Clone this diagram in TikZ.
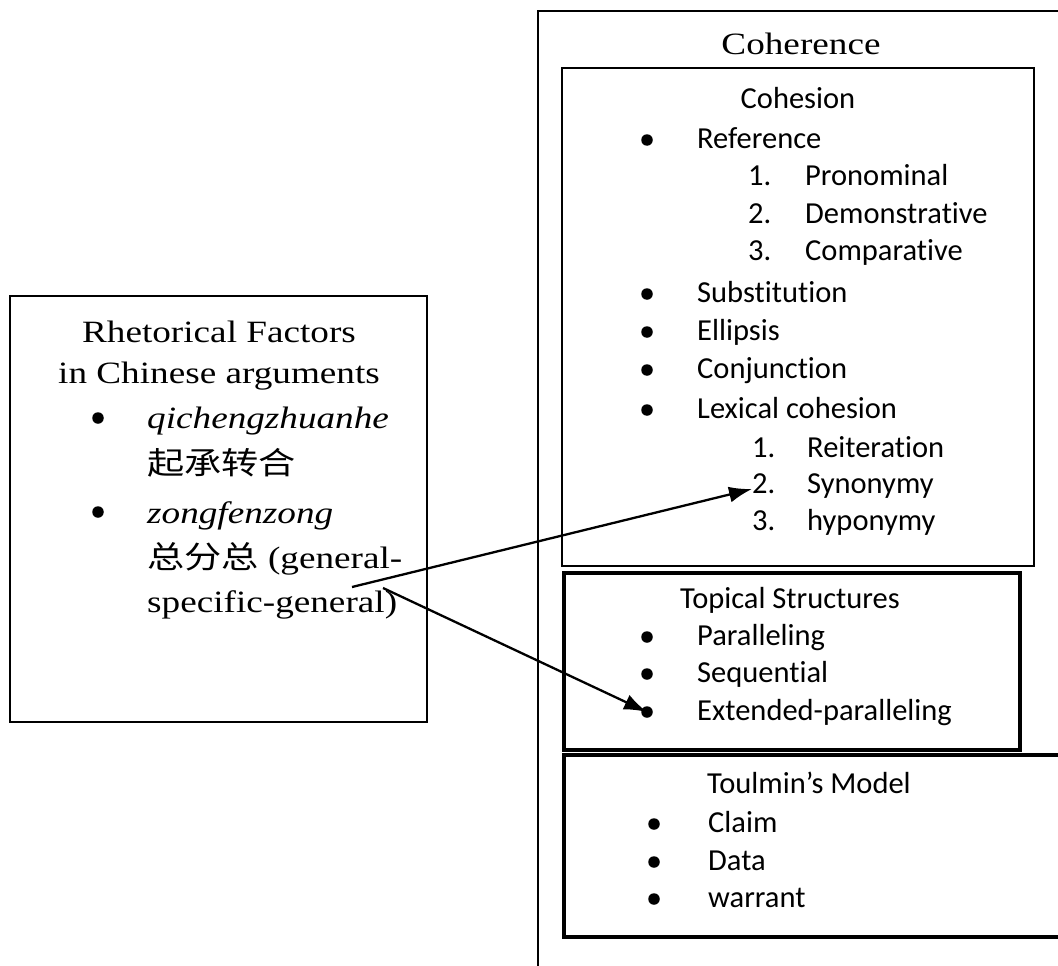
\documentclass[tikz,border=0pt]{standalone}
\usepackage{graphicx}
\usepackage{fontspec}
\setmainfont{Liberation Serif}
\newfontfamily\calib[RawFeature={-liga;-clig;-calt;-dlig}]{Carlito}
\newfontfamily\cjk{Noto Sans CJK SC}
\usetikzlibrary{arrows.meta}

% horizontally widened serif text
\newcommand{\wide}[1]{\scalebox{1.2}[1]{#1}}

\begin{document}
\begin{tikzpicture}[x=1pt,y=-1pt,
  sansline/.style={anchor=base west, inner sep=0pt, font=\calib\fontsize{30.5}{36}\selectfont},
  sanshead/.style={anchor=base, inner sep=0pt, font=\calib\fontsize{30.5}{36}\selectfont},
  serifline/.style={anchor=base west, inner sep=0pt, font=\fontsize{31}{36}\selectfont},
  serifhead/.style={anchor=base, inner sep=0pt, font=\fontsize{31}{36}\selectfont},
  dot/.style={circle, fill=black, inner sep=0pt, minimum size=11.5pt},
  thinbox/.style={draw=black, line width=1.9pt},
  thickbox/.style={draw=black, line width=3.6pt},
  link/.style={draw=black, line width=2.3pt, -{Latex[length=23pt,width=16pt]}}
]
\useasboundingbox (0,0) rectangle (1058,966);

% ---------- left box: rhetorical factors ----------
\draw[thinbox] (10,296) rectangle (427,722);
\node[serifhead] (rf1) at (219,342) {\wide{Rhetorical Factors}};
\node[serifhead] (rf2) at (219,383) {\wide{in Chinese arguments}};
\node[dot] (b1) at (98,418) {};
\node[serifline] (q1) at (147,428) {\wide{\itshape qichengzhuanhe}};
\node[serifline] (q2) at (147,474) {\wide{\cjk 起承转合}};
\node[dot] (b2) at (98,512) {};
\node[serifline] (z1) at (147,523) {\wide{\itshape zongfenzong}};
\node[serifline] (z2) at (147,568) {\wide{{\cjk 总分总} (general-}};
\node[serifline] (z3) at (147,612) {\wide{specific-general)}};

% ---------- coherence frame ----------
\draw[line width=1.7pt] (538,975) -- (538,11) -- (1070,11);
\node[serifhead] (coh) at (801,55) {\wide{Coherence}};

% ---------- cohesion box ----------
\draw[thinbox] (562,68) rectangle (1034,566);
\node[sanshead] (cohesion) at (798,108) {Cohesion};
\node[dot] (d1) at (647,140) {};
\node[sansline] (ref) at (697,148) {Reference};
\node[sansline] (n1) at (748,185) {1.};
\node[sansline] (pro) at (805,185) {Pronominal};
\node[sansline] (n2) at (748,223) {2.};
\node[sansline] (dem) at (805,223) {Demonstrative};
\node[sansline] (n3) at (748,260) {3.};
\node[sansline] (com) at (805,260) {Comparative};
\node[dot] (d2) at (647,294) {};
\node[sansline] (sub) at (697,302) {Substitution};
\node[dot] (d3) at (647,332) {};
\node[sansline] (ell) at (697,340) {Ellipsis};
\node[dot] (d4) at (647,370) {};
\node[sansline] (con) at (697,378) {Conjunction};
\node[dot] (d5) at (647,410) {};
\node[sansline] (lex) at (697,418) {Lexical cohesion};
\node[sansline] (m1) at (752,457) {1.};
\node[sansline] (rei) at (807,457) {Reiteration};
\node[sansline] (m2) at (752,493) {2.};
\node[sansline] (syn) at (807,493) {Synonymy};
\node[sansline] (m3) at (752,530) {3.};
\node[sansline] (hyp) at (807,530) {hyponymy};

% ---------- topical structures box ----------
\draw[thickbox] (564,573) rectangle (1020,750);
\node[sanshead] (top) at (790,608) {Topical Structures};
\node[dot] (t1) at (647,637) {};
\node[sansline] (par) at (697,645) {Paralleling};
\node[dot] (t2) at (647,674) {};
\node[sansline] (seq) at (697,682) {Sequential};
\node[dot] (t3) at (647,712) {};
\node[sansline] (ext) at (697,720) {Extended-paralleling};

% ---------- Toulmin's model box ----------
\draw[line width=3.2pt] (1070,755) -- (564,755) -- (564,937) -- (1070,937);
\node[sanshead] (toul) at (809,793) {Toulmin’s Model};
\node[dot] (c1) at (654,824) {};
\node[sansline] (cla) at (708,832) {Claim};
\node[dot] (c2) at (654,862) {};
\node[sansline] (dat) at (708,870) {Data};
\node[dot] (c3) at (654,899) {};
\node[sansline] (war) at (708,907) {warrant};

% ---------- connectors ----------
\coordinate (s1) at (352,587);
\coordinate (s2) at (383,588);
\coordinate (e1) at (752,489);
\draw[link] (s1) -- (e1);
\draw[link] (s2) -- (t3.center);
\end{tikzpicture}
\end{document}
